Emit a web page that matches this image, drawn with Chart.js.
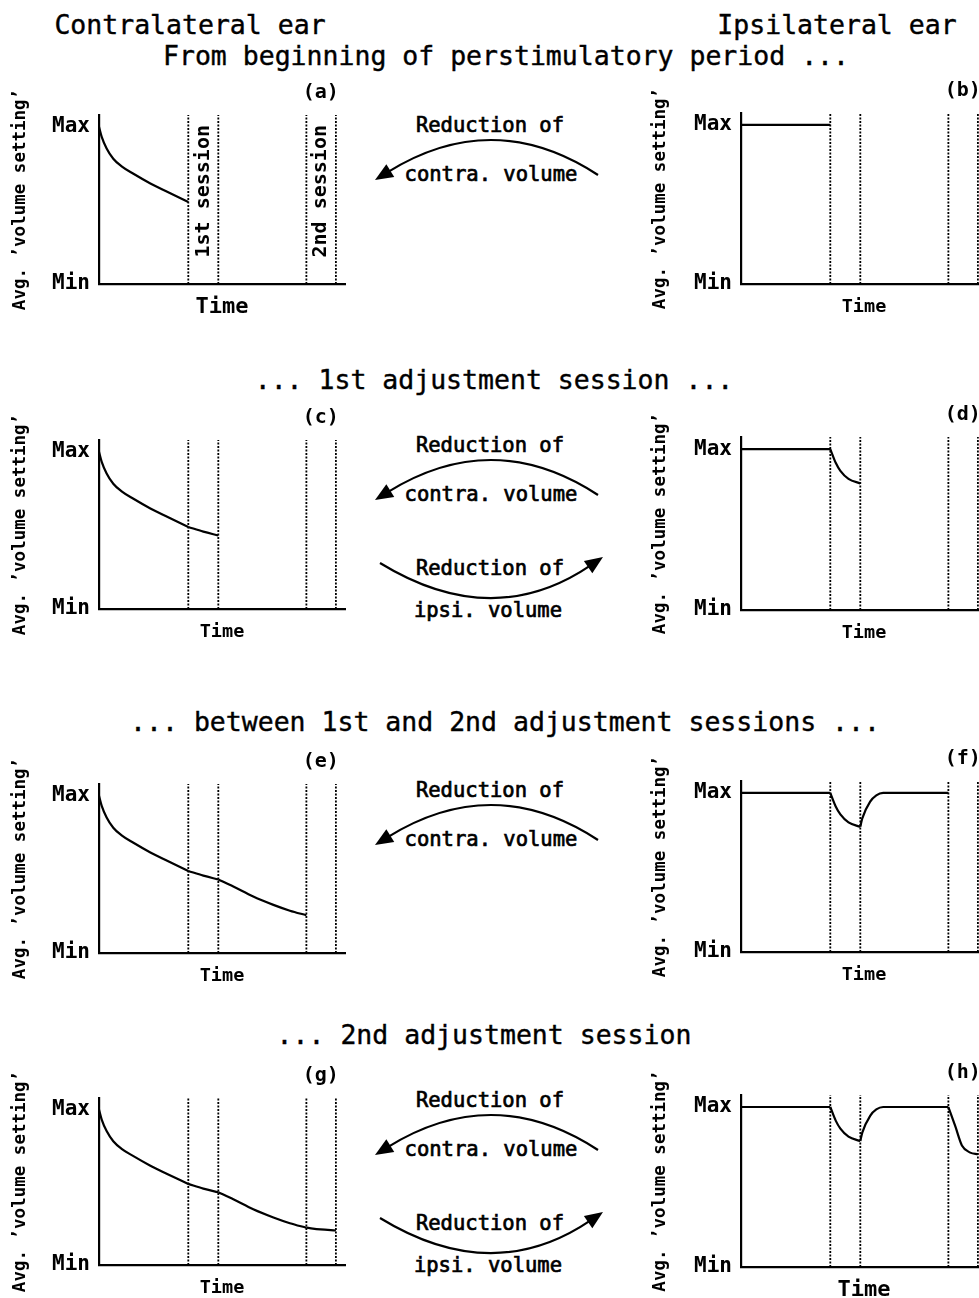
<!DOCTYPE html>
<html>
<head>
<meta charset="utf-8">
<script src="https://cdn.jsdelivr.net/npm/chart.js@4.4.1/dist/chart.umd.min.js"></script>
<style>
  html, body { margin: 0; padding: 0; background: #fff; }
  body { width: 979px; height: 1298px; overflow: hidden; position: relative; }
  canvas { position: absolute; }
  #notes { position: absolute; left: 0; top: 0; }
  #notes text { font-family: 'DejaVu Sans Mono'; fill: #000; stroke: #000; }
</style>
</head>
<body>
<svg id="notes" width="979" height="1298"></svg>
<script>
// session boundaries on the time axis (0..100)
const sessionBounds = [36.3, 48.5, 84.3, 96.3];

// contralateral ear: average volume setting over time
const contraTime  = [0, 1.1, 3.1, 5.8, 9.2, 14, 20.7, 27.5, 36.3, 42.4, 48.5, 54.6, 62.7, 70.9, 77.6, 84.3, 90, 96.3];
const contraLevel = [100, 93.6, 86.2, 79.7, 74.8, 70.1, 64.1, 58.8, 52.2, 49.2, 46.8, 42.3, 35.9, 30.6, 26.9, 24.0, 22.9, 22.2];

// ipsilateral ear
const ipsiTime  = [0, 36.3, 38.5, 40.4, 43.7, 48.5, 49.3, 52.5, 55, 57.8, 84.3, 87.1, 89.8, 93.2, 96.3];
const ipsiLevel = [100, 100, 91.5, 86.5, 81.5, 78.7, 84, 94.5, 98.5, 100, 100, 88, 76, 71.5, 70.5];

// how far the curves have run in each row of panels
const rowEnds = [36.3, 48.5, 84.3, 96.3];
const panelLetters = ['(a)', '(b)', '(c)', '(d)', '(e)', '(f)', '(g)', '(h)'];
const yTicks = [0, 100];
const yTickNames = { 0: 'Min', 100: 'Max' };
const yTop = 107.5;

const FONT = 'DejaVu Sans Mono';
Chart.defaults.font.family = FONT;
Chart.defaults.color = '#000';

// where each panel sits on the page
const panels = [
  { side: 'L', maxPx: 127,  minPx: 284,  timeSize: 22 },
  { side: 'R', maxPx: 125,  minPx: 284,  timeSize: 18.5 },
  { side: 'L', maxPx: 452,  minPx: 609,  timeSize: 18.5 },
  { side: 'R', maxPx: 449,  minPx: 610,  timeSize: 18.5 },
  { side: 'L', maxPx: 796,  minPx: 953,  timeSize: 18.5 },
  { side: 'R', maxPx: 793,  minPx: 952,  timeSize: 18.5 },
  { side: 'L', maxPx: 1110, minPx: 1265, timeSize: 18.5 },
  { side: 'R', maxPx: 1107, minPx: 1267, timeSize: 22 },
];

const panelText = {
  id: 'panelText',
  afterDraw(chart, args, opts) {
    const { ctx, chartArea, scales: { x, y } } = chart;
    ctx.save();
    ctx.fillStyle = '#000';
    ctx.font = 'bold 20px "' + FONT + '"';
    ctx.textAlign = 'right';
    ctx.fillText(opts.letter, x.getPixelForValue(sessionBounds[3]) + 3, chartArea.top - 17);
    if (opts.sessionNames) {
      ctx.font = 'bold 20px "' + FONT + '"';
      opts.sessionNames.forEach((name, i) => {
        const cx = x.getPixelForValue((sessionBounds[2 * i] + sessionBounds[2 * i + 1]) / 2);
        const cy = y.getPixelForValue(59);
        ctx.save();
        ctx.translate(cx, cy);
        ctx.rotate(-Math.PI / 2);
        ctx.textAlign = 'center';
        ctx.textBaseline = 'middle';
        ctx.fillText(name, 0, 0);
        ctx.restore();
      });
    }
    ctx.restore();
  }
};

// one line dataset per stretch between session boundaries, so the curve can bend at each boundary
function curveSegments(times, levels, end) {
  const cuts = [0].concat(sessionBounds.filter(b => b <= end + 0.01));
  const out = [];
  for (let s = 0; s < cuts.length - 1; s++) {
    const pts = [];
    times.forEach((t, k) => {
      if (t >= cuts[s] - 0.01 && t <= cuts[s + 1] + 0.01) pts.push({ x: t, y: levels[k] });
    });
    out.push({
      data: pts,
      borderColor: '#000',
      borderWidth: 2.2,
      pointRadius: 0,
      cubicInterpolationMode: 'monotone',
    });
  }
  return out;
}

panels.forEach((p, i) => {
  const row = Math.floor(i / 2);
  const end = rowEnds[row];
  const times = p.side === 'L' ? contraTime : ipsiTime;
  const levels = p.side === 'L' ? contraLevel : ipsiLevel;

  const plotH = (p.minPx - p.maxPx) * yTop / 100;
  const axisW = p.side === 'L' ? 99 : 101;
  const padRight = 360 - axisW - 246;
  const xH = 42;

  const canvas = document.createElement('canvas');
  canvas.width = 360;
  canvas.height = Math.round(plotH + 45 + xH);
  canvas.style.left = (p.side === 'L' ? 0 : 640) + 'px';
  canvas.style.top = Math.round(p.minPx - plotH - 45) + 'px';
  document.body.appendChild(canvas);

  const datasets = sessionBounds.map(b => ({
    data: [{ x: b, y: 0 }, { x: b, y: yTop }],
    borderColor: '#000',
    borderWidth: 1.8,
    borderDash: [2, 1.5],
    pointRadius: 0,
  }));
  curveSegments(times, levels, end).forEach(d => datasets.push(d));

  const timeLh = p.timeSize * 1.2;

  new Chart(canvas, {
    type: 'line',
    data: { datasets },
    plugins: [panelText],
    options: {
      responsive: false,
      animation: false,
      events: [],
      layout: { padding: { left: 0, top: 45, right: padRight, bottom: 0 } },
      plugins: {
        legend: { display: false },
        tooltip: { enabled: false },
        panelText: { letter: panelLetters[i], sessionNames: i === 0 ? ['1st session', '2nd session'] : null },
      },
      scales: {
        x: {
          type: 'linear', min: 0, max: 100,
          grid: { display: false, drawTicks: false },
          border: { display: true, color: '#000', width: 2.2 },
          ticks: { display: false },
          title: {
            display: true, text: 'Time', color: '#000',
            font: { size: p.timeSize, weight: 'bold' },
            padding: { top: 0, bottom: xH - 23 - timeLh / 2 },
          },
          afterFit(s) { s.height = xH; },
        },
        y: {
          min: 0, max: yTop,
          grid: { display: false, drawTicks: false },
          border: { display: true, color: '#000', width: 2.2 },
          ticks: { color: '#000', font: { size: 21, weight: 'bold' }, padding: 9, callback: v => yTickNames[v] || '' },
          afterBuildTicks(s) { s.ticks = yTicks.map(v => ({ value: v })); },
          title: {
            display: true, text: 'Avg. \u2019volume setting\u2019', color: '#000',
            font: { size: 17.5, weight: 'bold' },
            padding: { top: 20 - 17.5 * 0.6, bottom: 0 },
          },
          afterFit(s) { s.width = axisW; },
        },
      },
    },
  });
});

// ---- headings, middle labels and arrows ----
const svg = document.getElementById('notes');
const NS = 'http://www.w3.org/2000/svg';

function label(text, x, y, size, weight) {
  const el = document.createElementNS(NS, 'text');
  el.setAttribute('x', x);
  el.setAttribute('y', y);
  el.setAttribute('text-anchor', 'middle');
  el.setAttribute('font-size', size);
  el.setAttribute('stroke-width', weight);
  el.textContent = text;
  svg.appendChild(el);
}

// quadratic arc through (midX, midY) with a filled head at the end point
function arrow(x0, y0, midX, midY, x1, y1) {
  const cx = 2 * midX - (x0 + x1) / 2;
  const cy = 2 * midY - (y0 + y1) / 2;
  let dx = x1 - cx, dy = y1 - cy;
  const len = Math.hypot(dx, dy);
  dx /= len; dy /= len;
  const hl = 18, hw = 7.5;
  const bx = x1 - dx * hl, by = y1 - dy * hl;
  const path = document.createElementNS(NS, 'path');
  path.setAttribute('d', `M${x0},${y0} Q${cx},${cy} ${bx + dx * 3},${by + dy * 3}`);
  path.setAttribute('fill', 'none');
  path.setAttribute('stroke', '#000');
  path.setAttribute('stroke-width', 2.2);
  svg.appendChild(path);
  const head = document.createElementNS(NS, 'polygon');
  head.setAttribute('points', `${x1},${y1} ${bx - dy * hw},${by + dx * hw} ${bx + dy * hw},${by - dx * hw}`);
  head.setAttribute('fill', '#000');
  svg.appendChild(head);
}

label('Contralateral ear', 190, 34, 26.5, 0.4);
label('Ipsilateral ear', 837, 34, 26.5, 0.4);
label('From beginning of perstimulatory period ...', 506, 65, 26.5, 0.4);
label('... 1st adjustment session ...', 494, 389, 26.5, 0.4);
label('... between 1st and 2nd adjustment sessions ...', 505, 731, 26.5, 0.4);
label('... 2nd adjustment session', 484, 1044, 26.5, 0.4);

[-320, 0, 345, 655].forEach(dy => {
  label('Reduction of', 490, 452 + dy, 20.5, 0.7);
  label('contra. volume', 491, 501 + dy, 20.5, 0.7);
  arrow(598, 495 + dy, 490, 462 + dy, 375, 500 + dy);
});
[0, 655].forEach(dy => {
  label('Reduction of', 490, 575 + dy, 20.5, 0.7);
  label('ipsi. volume', 488, 617 + dy, 20.5, 0.7);
  arrow(380, 563 + dy, 492, 596 + dy, 603, 557 + dy);
});
</script>
</body>
</html>
